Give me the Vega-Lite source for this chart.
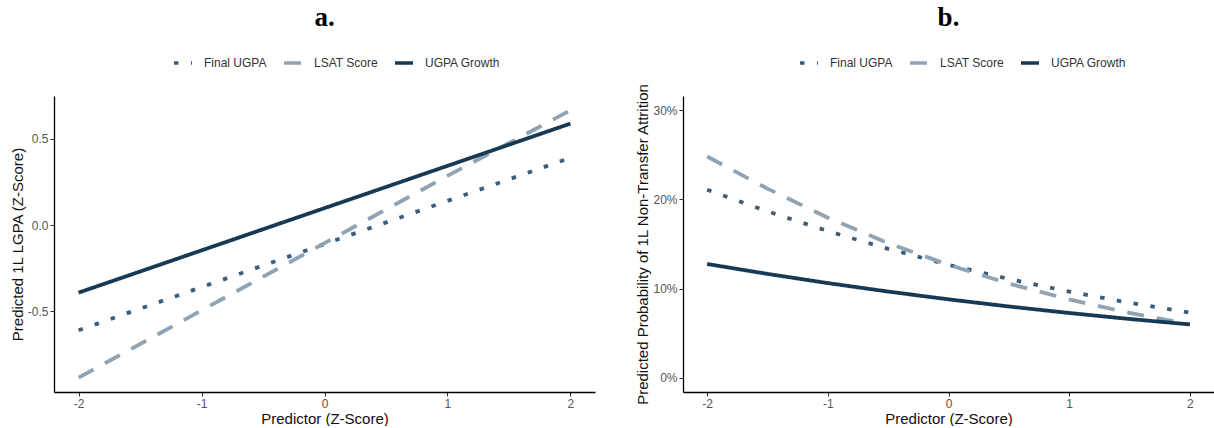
{
  "$schema": "https://vega.github.io/schema/vega-lite/v6.json",
  "padding": {"left": 10, "top": 4, "right": 0, "bottom": 0},
  "background": "white",
  "spacing": 40,
  "config": {
    "view": {"stroke": null},
    "font": "Liberation Sans",
    "axis": {
      "grid": false,
      "domainColor": "#000000",
      "domainWidth": 1.3,
      "tickColor": "#333333",
      "tickSize": 4,
      "tickWidth": 1,
      "labelColor": "#555555",
      "labelFont": "Liberation Sans",
      "labelFontSize": 12,
      "labelPadding": 2,
      "titleFont": "Liberation Sans",
      "titleFontSize": 15,
      "titleFontWeight": "normal",
      "titleColor": "#111111",
      "titlePadding": 2
    },
    "title": {
      "font": "Liberation Serif",
      "fontSize": 27,
      "fontWeight": "bold",
      "color": "#000000",
      "anchor": "middle",
      "offset": 20
    },
    "legend": {
      "labelFont": "Liberation Sans",
      "labelFontSize": 12,
      "labelColor": "#333333",
      "symbolType": "stroke",
      "symbolSize": 324,
      "symbolStrokeWidth": 3.5,
      "labelOffset": 10,
      "columnPadding": 10,
      "title": null
    }
  },
  "datasets": {
    "lgpa": [
      {"predictor": -2, "series": "Final UGPA", "value": -0.61},
      {"predictor": -1, "series": "Final UGPA", "value": -0.36},
      {"predictor": 0, "series": "Final UGPA", "value": -0.11},
      {"predictor": 1, "series": "Final UGPA", "value": 0.14},
      {"predictor": 2, "series": "Final UGPA", "value": 0.39},
      {"predictor": -2, "series": "LSAT Score", "value": -0.885},
      {"predictor": -1, "series": "LSAT Score", "value": -0.495},
      {"predictor": 0, "series": "LSAT Score", "value": -0.105},
      {"predictor": 1, "series": "LSAT Score", "value": 0.285},
      {"predictor": 2, "series": "LSAT Score", "value": 0.665},
      {"predictor": -2, "series": "UGPA Growth", "value": -0.392},
      {"predictor": -1, "series": "UGPA Growth", "value": -0.147},
      {"predictor": 0, "series": "UGPA Growth", "value": 0.098},
      {"predictor": 1, "series": "UGPA Growth", "value": 0.343},
      {"predictor": 2, "series": "UGPA Growth", "value": 0.588}
    ],
    "attrition": [
      {"predictor": -2, "series": "Final UGPA", "value": 0.2108},
      {"predictor": -1.5, "series": "Final UGPA", "value": 0.1866},
      {"predictor": -1, "series": "Final UGPA", "value": 0.1645},
      {"predictor": -0.5, "series": "Final UGPA", "value": 0.1446},
      {"predictor": 0, "series": "Final UGPA", "value": 0.1267},
      {"predictor": 0.5, "series": "Final UGPA", "value": 0.1108},
      {"predictor": 1, "series": "Final UGPA", "value": 0.0967},
      {"predictor": 1.5, "series": "Final UGPA", "value": 0.0841},
      {"predictor": 2, "series": "Final UGPA", "value": 0.0731},
      {"predictor": -2, "series": "LSAT Score", "value": 0.248},
      {"predictor": -1.5, "series": "LSAT Score", "value": 0.212},
      {"predictor": -1, "series": "LSAT Score", "value": 0.1795},
      {"predictor": -0.5, "series": "LSAT Score", "value": 0.151},
      {"predictor": 0, "series": "LSAT Score", "value": 0.1267},
      {"predictor": 0.5, "series": "LSAT Score", "value": 0.1057},
      {"predictor": 1, "series": "LSAT Score", "value": 0.0879},
      {"predictor": 1.5, "series": "LSAT Score", "value": 0.0728},
      {"predictor": 2, "series": "LSAT Score", "value": 0.0601},
      {"predictor": -2, "series": "UGPA Growth", "value": 0.1276},
      {"predictor": -1.5, "series": "UGPA Growth", "value": 0.1165},
      {"predictor": -1, "series": "UGPA Growth", "value": 0.1062},
      {"predictor": -0.5, "series": "UGPA Growth", "value": 0.0967},
      {"predictor": 0, "series": "UGPA Growth", "value": 0.088},
      {"predictor": 0.5, "series": "UGPA Growth", "value": 0.08},
      {"predictor": 1, "series": "UGPA Growth", "value": 0.0727},
      {"predictor": 1.5, "series": "UGPA Growth", "value": 0.066},
      {"predictor": 2, "series": "UGPA Growth", "value": 0.0599}
    ]
  },
  "hconcat": [
    {
      "title": "a.",
      "width": 541,
      "height": 296,
      "data": {"name": "lgpa"},
      "mark": {"type": "line", "strokeWidth": 3.8, "strokeCap": "butt"},
      "encoding": {
        "x": {
          "field": "predictor", "type": "quantitative",
          "scale": {"domain": [-2.2, 2.2], "nice": false, "zero": false},
          "axis": {"values": [-2, -1, 0, 1, 2], "title": "Predictor (Z-Score)",
                   "labelExpr": "datum.value < 0 ? '-' + format(-datum.value, 'd') : format(datum.value, 'd')"}
        },
        "y": {
          "field": "value", "type": "quantitative",
          "scale": {"domain": [-0.968, 0.748], "nice": false, "zero": false},
          "axis": {"values": [-0.5, 0, 0.5], "title": "Predicted 1L LGPA (Z-Score)",
                   "labelExpr": "datum.value < 0 ? '-' + format(-datum.value, '.1f') : format(datum.value, '.1f')"}
        },
        "color": {
          "field": "series", "type": "nominal",
          "scale": {"domain": ["Final UGPA", "LSAT Score", "UGPA Growth"], "range": ["#3b5d79", "#8fa3b3", "#163a56"]},
          "legend": {"orient": "none", "direction": "horizontal", "legendX": 118, "legendY": -44}
        },
        "strokeDash": {
          "field": "series", "type": "nominal",
          "scale": {"domain": ["Final UGPA", "LSAT Score", "UGPA Growth"], "range": [[4.5, 12.5], [17, 13], [1, 0]]},
          "legend": {"orient": "none", "direction": "horizontal", "legendX": 118, "legendY": -44}
        }
      }
    },
    {
      "title": "b.",
      "width": 531,
      "height": 296,
      "data": {"name": "attrition"},
      "mark": {"type": "line", "strokeWidth": 3.8, "strokeCap": "butt"},
      "encoding": {
        "x": {
          "field": "predictor", "type": "quantitative",
          "scale": {"domain": [-2.2, 2.2], "nice": false, "zero": false},
          "axis": {"values": [-2, -1, 0, 1, 2], "title": "Predictor (Z-Score)",
                   "labelExpr": "datum.value < 0 ? '-' + format(-datum.value, 'd') : format(datum.value, 'd')"}
        },
        "y": {
          "field": "value", "type": "quantitative",
          "scale": {"domain": [-0.0158, 0.3158], "nice": false, "zero": false},
          "axis": {"values": [0, 0.1, 0.2, 0.3], "format": ".0%", "title": "Predicted Probability of 1L Non-Transfer Attrition"}
        },
        "color": {
          "field": "series", "type": "nominal",
          "scale": {"domain": ["Final UGPA", "LSAT Score", "UGPA Growth"], "range": ["#3b5d79", "#8fa3b3", "#163a56"]},
          "legend": {"orient": "none", "direction": "horizontal", "legendX": 115, "legendY": -44}
        },
        "strokeDash": {
          "field": "series", "type": "nominal",
          "scale": {"domain": ["Final UGPA", "LSAT Score", "UGPA Growth"], "range": [[4.5, 12.5], [17, 13], [1, 0]]},
          "legend": {"orient": "none", "direction": "horizontal", "legendX": 115, "legendY": -44}
        }
      }
    }
  ],
  "resolve": {"scale": {"color": "independent", "strokeDash": "independent", "x": "independent", "y": "independent"}, "legend": {"color": "independent", "strokeDash": "independent"}}
}
